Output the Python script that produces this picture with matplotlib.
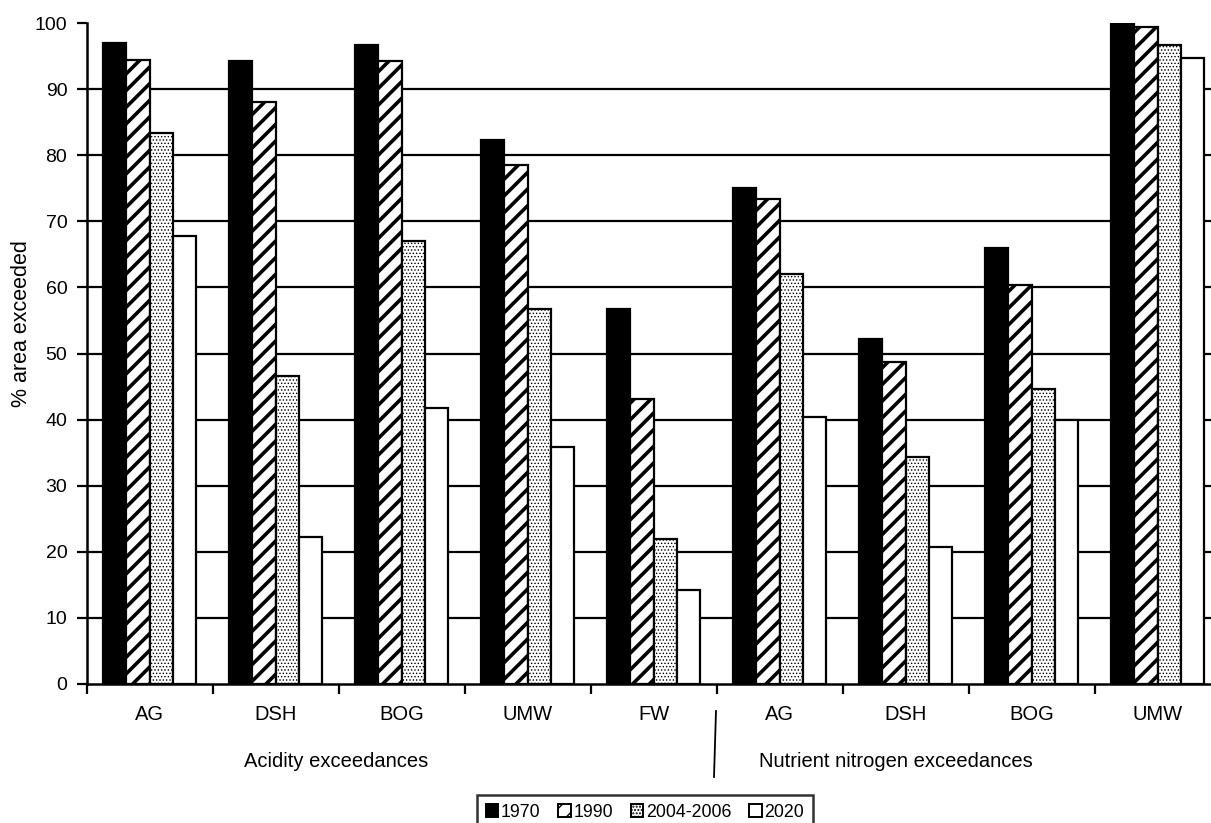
import matplotlib
matplotlib.use("Agg")
import matplotlib.pyplot as plt
from matplotlib.patches import Patch
from matplotlib.lines import Line2D
from matplotlib.transforms import blended_transform_factory
import numpy as np

plt.rcParams['font.family'] = ['Liberation Sans', 'DejaVu Sans']

categories = ["AG", "DSH", "BOG", "UMW", "FW", "AG", "DSH", "BOG", "UMW"]
group_labels = ["Acidity exceedances", "Nutrient nitrogen exceedances"]
group_centers = [1.98, 6.42]
series_names = ["1970", "1990", "2004-2006", "2020"]
v1970 = [96.9, 94.2, 96.6, 82.3, 56.7, 75.0, 52.2, 65.9, 99.8]
v1990 = [94.4, 88.0, 94.2, 78.5, 43.1, 73.4, 48.7, 60.3, 99.4]
v2004 = [83.3, 46.6, 67.0, 56.7, 21.9, 62.0, 34.3, 44.7, 96.6]
v2020 = [67.8, 22.3, 41.7, 35.9, 14.2, 40.4, 20.8, 40.0, 94.7]
yticks = [0, 10, 20, 30, 40, 50, 60, 70, 80, 90, 100]

W, H = 1211, 823
fig = plt.figure(figsize=(W/100, H/100), dpi=100)
ax = fig.add_axes([86.7/W, 1-684/H, 1134/W, (684-23)/H])

n = len(categories)
x = np.arange(n) + 0.5
bw = 0.185
styles = [
    dict(facecolor='black', hatch=None),
    dict(facecolor='white', hatch='//'),
    dict(facecolor='white', hatch='.....'),
    dict(facecolor='white', hatch=None),
]
hatch_lw = [1.0, 2.6, 0.6, 1.0]
all_vals = [v1970, v1990, v2004, v2020]
handles = []
for i, (vals, st, name) in enumerate(zip(all_vals, styles, series_names)):
    plt.rcParams['hatch.linewidth'] = hatch_lw[i]
    off = (i - 1.5) * bw
    ax.bar(x + off, vals, width=bw, facecolor=st['facecolor'], hatch=st['hatch'],
           edgecolor='black', linewidth=1.6, zorder=3)
    plt.rcParams['hatch.linewidth'] = min(hatch_lw[i], 1.6)
    handles.append(Patch(facecolor=st['facecolor'], hatch=st['hatch'],
                         edgecolor='black', linewidth=1.4, label=name))

ax.set_xlim(0, n)
ax.set_ylim(0, 100)
ax.set_yticks(yticks)
ax.tick_params(axis='y', labelsize=14, length=7, width=1.6, direction='out', pad=7)
for yv in yticks[1:-1]:
    ax.axhline(yv, color='black', linewidth=1.6, zorder=1)

ax.set_xticks(np.arange(n + 1))
ax.set_xticklabels([])
ax.tick_params(axis='x', which='major', length=7, width=1.6, direction='out')

for s in ['top', 'right']:
    ax.spines[s].set_visible(False)
for s in ['left', 'bottom']:
    ax.spines[s].set_linewidth(1.8)

tr = blended_transform_factory(ax.transData, fig.transFigure)
for xi, lab in zip(x, categories):
    ax.text(xi, 1 - 720/H, lab, transform=tr, ha='center', va='baseline', fontsize=14.5)
for xc, lab in zip(group_centers, group_labels):
    ax.text(xc, 1 - 767/H, lab, transform=tr, ha='center', va='baseline', fontsize=14.5)

fig.text(22/W, 1 - 324/H, "% area exceeded", rotation=90, ha='center', va='center', fontsize=15.5)

fig.add_artist(Line2D([716/W, 714/W], [1-711/H, 1-777/H], color='black', linewidth=1.3))

leg = fig.legend(handles=handles, loc='upper left', bbox_to_anchor=(477/W, 1-795/H),
                 ncol=4, fontsize=12.8, frameon=True, fancybox=False, edgecolor='black',
                 handlelength=0.7, handleheight=0.7, handletextpad=0.15, columnspacing=1.0,
                 borderpad=0.5, borderaxespad=0)
leg.get_frame().set_linewidth(1.8)

fig.savefig("out.png", dpi=100)
